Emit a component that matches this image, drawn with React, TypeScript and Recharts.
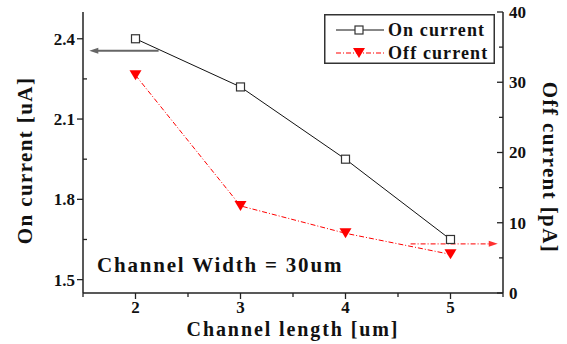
import { LineChart, Line, XAxis, YAxis, ReferenceLine, Legend } from 'recharts';

const lengths = [2, 3, 4, 5];
const onCurrent = [2.4, 2.22, 1.95, 1.65];
const offCurrent = [31, 12.4, 8.5, 5.5];

const xTicks = [1.5, 2, 2.5, 3, 3.5, 4, 4.5, 5, 5.5];
const xMajor = [2, 3, 4, 5];
const onTicks = [1.5, 1.65, 1.8, 1.95, 2.1, 2.25, 2.4];
const onMajor = [1.5, 1.8, 2.1, 2.4];
const offTicks = [0, 5, 10, 15, 20, 25, 30, 35, 40];
const offMajor = [0, 10, 20, 30, 40];

// arrows pointing each series to its own axis
const onArrow = { y: 2.355, from: 2.22, to: 1.56 };
const offArrow = { y: 7, from: 4.62, to: 5.45 };

const rows = lengths.map((x, i) => ({ x, on: onCurrent[i], off: offCurrent[i] }));

const FONT = 'Liberation Serif, DejaVu Serif, Times New Roman, Times, serif';
const AXIS = '#222';
const RED = '#ff0000';
const DASH = '5 2 1 2';

const isMajor = (list: number[], v: number) => list.some((m) => Math.abs(m - v) < 1e-6);

function makeTick(side: 'left' | 'right' | 'bottom' | 'top', majors: number[], fmt: (v: number) => string) {
  return (props: any) => {
    const { x, y, payload } = props;
    const v = payload.value;
    const major = isMajor(majors, v);
    const len = major ? 6 : 4;
    const txt = { fontFamily: FONT, fontWeight: 700, fontSize: 17, fill: '#111' };
    if (side === 'left') {
      return (
        <g>
          <line x1={major ? x - len : x} x2={major ? x : x + len} y1={y} y2={y} stroke={AXIS} strokeWidth={1.3} />
          {major && (
            <text x={x - 8} y={y} dy="0.35em" textAnchor="end" {...txt}>
              {fmt(v)}
            </text>
          )}
        </g>
      );
    }
    if (side === 'right') {
      return (
        <g>
          <line x1={x - len} x2={x} y1={y} y2={y} stroke={AXIS} strokeWidth={1.3} />
          {major && (
            <text x={x + 6} y={y} dy="0.35em" textAnchor="start" {...txt}>
              {fmt(v)}
            </text>
          )}
        </g>
      );
    }
    if (side === 'top') {
      return <line x1={x} x2={x} y1={y} y2={y + len} stroke={AXIS} strokeWidth={1.3} />;
    }
    return (
      <g>
        <line x1={x} x2={x} y1={y} y2={y + len} stroke={AXIS} strokeWidth={1.3} />
        {major && (
          <text x={x} y={y + 20} textAnchor="middle" {...txt}>
            {fmt(v)}
          </text>
        )}
      </g>
    );
  };
}

const titleStyle = { fontFamily: FONT, fontWeight: 700, fontSize: 21, letterSpacing: 1.4, fill: '#111' };

function AxisTitle({ viewBox, text, kind }: any) {
  const { x, y, width, height } = viewBox;
  if (kind === 'left') {
    const cx = 25;
    const cy = y + height / 2 + 8;
    return (
      <text x={cx} y={cy} transform={`rotate(-90 ${cx} ${cy})`} textAnchor="middle" dy="0.35em" {...titleStyle}>
        {text}
      </text>
    );
  }
  if (kind === 'right') {
    const cx = x + width - 17;
    const cy = y + height / 2 + 15;
    return (
      <text x={cx} y={cy} transform={`rotate(90 ${cx} ${cy})`} textAnchor="middle" dy="0.35em" {...titleStyle}>
        {text}
      </text>
    );
  }
  return (
    <text x={x + width / 2} y={y + 43} textAnchor="middle" {...titleStyle} fontSize={20} letterSpacing={1.9}>
      {text}
    </text>
  );
}

function Square(props: any) {
  const { cx, cy, index } = props;
  return <rect key={index} x={cx - 4} y={cy - 4} width={8} height={8} fill="#fff" stroke="#333" strokeWidth={1.2} />;
}

function Triangle(props: any) {
  const { cx, cy, index } = props;
  return <polygon key={index} points={`${cx - 6},${cy - 5} ${cx + 6},${cy - 5} ${cx},${cy + 5}`} fill={RED} />;
}

function Arrow(color: string, width: number, dash?: string) {
  return (props: any) => {
    const { x1, y1, x2, y2 } = props;
    const dir = x2 > x1 ? 1 : -1;
    return (
      <g>
        <line x1={x1} y1={y1} x2={x2 - dir * 6} y2={y2} stroke={color} strokeWidth={width} strokeDasharray={dash} />
        <polygon points={`${x2},${y2} ${x2 - dir * 9},${y2 - 3} ${x2 - dir * 9},${y2 + 3}`} fill={color} />
      </g>
    );
  };
}

function LegendBox() {
  const txt = { fontFamily: FONT, fontWeight: 700, fontSize: 18, letterSpacing: 1.1, fill: '#111' };
  return (
    <svg width={171} height={50} style={{ display: 'block' }}>
      <rect x={0.75} y={0.75} width={169.5} height={48.5} fill="#fff" stroke="#333" strokeWidth={1.5} />
      <line x1={12} x2={60} y1={16} y2={16} stroke="#111" strokeWidth={1} />
      <rect x={31} y={12} width={8} height={8} fill="#fff" stroke="#333" strokeWidth={1.2} />
      <text x={64} y={22} {...txt}>On current</text>
      <line x1={12} x2={60} y1={39} y2={39} stroke={RED} strokeWidth={1.2} strokeDasharray={DASH} />
      <polygon points="29,34 41,34 35,44" fill={RED} />
      <text x={64} y={45} {...txt}>Off current</text>
    </svg>
  );
}

export default function App() {
  return (
    <div style={{ position: 'absolute', left: 0, top: 0, width: 567, height: 344, background: '#fff' }}>
      <LineChart width={567} height={344} data={rows} margin={{ top: 12, right: 0, bottom: 0, left: 0 }}>
        <XAxis
          dataKey="x"
          type="number"
          domain={[1.5, 5.5]}
          ticks={xTicks}
          interval={0}
          height={51}
          tickSize={0}
          tickMargin={0}
          tickLine={false}
          axisLine={{ stroke: AXIS, strokeWidth: 1.5 }}
          tick={makeTick('bottom', xMajor, (v) => String(v))}
          label={<AxisTitle kind="bottom" text="Channel length [um]" />}
        />
        <XAxis
          xAxisId="top"
          orientation="top"
          type="number"
          domain={[1.5, 5.5]}
          ticks={xTicks}
          interval={0}
          height={0}
          tickSize={0}
          tickMargin={0}
          tickLine={false}
          axisLine={{ stroke: AXIS, strokeWidth: 1.5 }}
          tick={makeTick('top', xMajor, (v) => String(v))}
        />
        <YAxis
          yAxisId="left"
          domain={[1.45, 2.5]}
          ticks={onTicks}
          interval={0}
          width={83}
          tickSize={0}
          tickMargin={0}
          tickLine={false}
          axisLine={{ stroke: AXIS, strokeWidth: 1.5 }}
          tick={makeTick('left', onMajor, (v) => v.toFixed(1))}
          label={<AxisTitle kind="left" text="On current [uA]" />}
        />
        <YAxis
          yAxisId="right"
          orientation="right"
          domain={[0, 40]}
          ticks={offTicks}
          interval={0}
          width={64}
          tickSize={0}
          tickMargin={0}
          tickLine={false}
          axisLine={{ stroke: AXIS, strokeWidth: 1.5 }}
          tick={makeTick('right', offMajor, (v) => String(v))}
          label={<AxisTitle kind="right" text="Off current [pA]" />}
        />
        <ReferenceLine
          yAxisId="left"
          segment={[
            { x: onArrow.from, y: onArrow.y },
            { x: onArrow.to, y: onArrow.y },
          ]}
          shape={Arrow('#666', 2)}
        />
        <ReferenceLine
          yAxisId="right"
          segment={[
            { x: offArrow.from, y: offArrow.y },
            { x: offArrow.to, y: offArrow.y },
          ]}
          shape={Arrow('#ff3030', 1.2, DASH)}
        />
        <Line
          yAxisId="left"
          dataKey="on"
          stroke="#111"
          strokeWidth={1}
          dot={Square}
          activeDot={false}
          isAnimationActive={false}
        />
        <Line
          yAxisId="right"
          dataKey="off"
          stroke={RED}
          strokeWidth={1}
          strokeDasharray={DASH}
          dot={Triangle}
          activeDot={false}
          isAnimationActive={false}
        />
        <Legend
          layout="vertical"
          align="center"
          verticalAlign="middle"
          content={<LegendBox />}
          wrapperStyle={{ position: 'absolute', left: 324, top: 14, width: 171, height: 50 }}
        />
      </LineChart>
      <div
        style={{
          position: 'absolute',
          left: 97,
          top: 253,
          fontFamily: FONT,
          fontWeight: 700,
          fontSize: 21,
          letterSpacing: 1.8,
          color: '#111',
          whiteSpace: 'nowrap',
        }}
      >
        Channel Width = 30um
      </div>
    </div>
  );
}
